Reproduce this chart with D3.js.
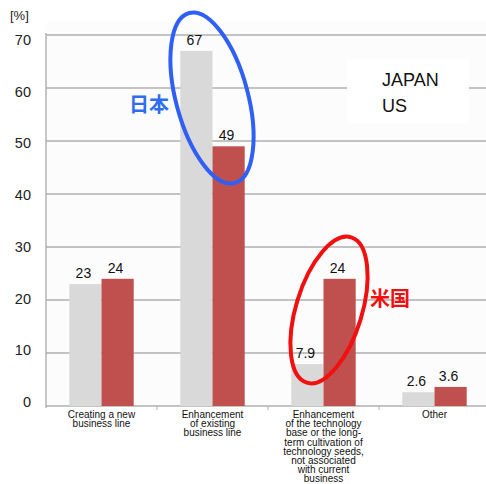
<!DOCTYPE html>
<html>
<head>
<meta charset="utf-8">
<script src="https://cdn.jsdelivr.net/npm/d3@7"></script>
<style>
  body { margin: 0; background: #fff; }
  text { font-family: "Liberation Sans", Arial, sans-serif; }
</style>
</head>
<body>
<svg width="486" height="484"></svg>
<script>
const categories = [
  ["Creating a new", "business line"],
  ["Enhancement", "of existing", "business line"],
  ["Enhancement", "of the technology", "base or the long-", "term cultivation of", "technology seeds,", "not associated", "with current", "business"],
  ["Other"]
];
const series = ["JAPAN", "US"];
const japan = [23, 67, 7.9, 2.6];
const us = [24, 49, 24, 3.6];
const yTicks = [0, 10, 20, 30, 40, 50, 60, 70];
const colors = { JAPAN: "#d9d9d9", US: "#c0504d" };

const svg = d3.select("svg");
const plotL = 46, plotR = 490, plotT = 35, plotB = 406;

const x = d3.scaleBand().domain(d3.range(categories.length)).range([plotL, plotR]).paddingInner(0.42).paddingOuter(0.21);
const x1 = d3.scaleBand().domain(series).range([0, x.bandwidth()]);
const y = d3.scaleLinear().domain([0, 70]).range([plotB, plotT]);
// tick labels in the original sit on a slightly tighter scale than the gridlines
const yLab = d3.scaleLinear().domain([0, 70]).range([402, 40]);

// plot background
svg.append("rect").attr("x", plotL).attr("y", 22).attr("width", 486 - plotL).attr("height", plotB - 22).attr("fill", "#fcfcfc");

// gridlines
svg.append("g").selectAll("line").data(yTicks).enter().append("line")
  .attr("x1", plotL).attr("x2", 486)
  .attr("y1", d => y(d)).attr("y2", d => y(d))
  .attr("stroke", "#b0b0b0").attr("stroke-width", 1.3);

svg.append("line").attr("x1", plotL).attr("x2", plotL).attr("y1", plotT - 2).attr("y2", plotB + 2)
  .attr("stroke", "#a8a8a8").attr("stroke-width", 1.3);

// y labels
svg.append("g").selectAll("text").data(yTicks).enter().append("text")
  .attr("x", 31).attr("y", d => yLab(d) + 5)
  .attr("text-anchor", "end").attr("font-size", 14.5).attr("fill", "#222")
  .text(d => d);
svg.append("text").attr("x", 10).attr("y", 20).attr("font-size", 13).attr("fill", "#222").text("[%]");

// small ticks between categories
svg.append("g").selectAll("line").data(d3.range(1, categories.length)).enter().append("line")
  .attr("x1", d => x(d) - x.step() * x.paddingInner() / 2).attr("x2", d => x(d) - x.step() * x.paddingInner() / 2)
  .attr("y1", plotB).attr("y2", plotB + 4)
  .attr("stroke", "#b0b0b0");

// bars
const rows = categories.map((c, i) => ({ i, vals: [ { s: "JAPAN", v: japan[i] }, { s: "US", v: us[i] } ] }));
const g = svg.append("g").selectAll("g").data(rows).enter().append("g")
  .attr("transform", d => `translate(${x(d.i)},0)`);
g.selectAll("rect").data(d => d.vals).enter().append("rect")
  .attr("x", d => x1(d.s)).attr("width", x1.bandwidth())
  .attr("y", d => y(d.v)).attr("height", d => plotB - y(d.v))
  .attr("fill", d => colors[d.s]);
g.selectAll("text").data(d => d.vals).enter().append("text")
  .attr("x", d => x1(d.s) + x1.bandwidth() / 2 - 2).attr("y", d => y(d.v) - 6)
  .attr("text-anchor", "middle").attr("font-size", 14).attr("fill", "#111")
  .text(d => d.v);

// category labels
const cl = svg.append("g").selectAll("text").data(categories).enter().append("text")
  .attr("x", (d, i) => x(i) + x.bandwidth() / 2).attr("y", 418)
  .attr("text-anchor", "middle").attr("font-size", 10).attr("fill", "#111");
cl.selectAll("tspan").data(d => d).enter().append("tspan")
  .attr("x", function () { return this.parentNode.getAttribute("x"); })
  .attr("dy", (d, i) => i ? 9.2 : 0)
  .text(d => d);

// legend
svg.append("rect").attr("x", 347).attr("y", 59).attr("width", 122).attr("height", 64).attr("fill", "#fff");
svg.append("g").selectAll("text").data(series).enter().append("text")
  .attr("x", 382).attr("y", (d, i) => 86 + i * 26)
  .attr("font-size", 18).attr("fill", "#111").text(d => d);

// annotations
svg.append("ellipse").attr("cx", 0).attr("cy", 0).attr("rx", 36).attr("ry", 88)
  .attr("transform", "translate(212,98) rotate(-15)")
  .attr("fill", "none").attr("stroke", "#2f5ff5").attr("stroke-width", 4);
svg.append("text").attr("x", 129).attr("y", 112).attr("font-size", 20).attr("font-weight", "bold")
  .attr("fill", "#2f6df0").style("font-family", "'Noto Sans CJK JP', sans-serif").text("日本");

svg.append("ellipse").attr("cx", 0).attr("cy", 0).attr("rx", 33).attr("ry", 76)
  .attr("transform", "translate(329,310) rotate(17)")
  .attr("fill", "none").attr("stroke", "#f01010").attr("stroke-width", 4);
svg.append("text").attr("x", 370).attr("y", 306).attr("font-size", 20).attr("font-weight", "bold")
  .attr("fill", "#f01010").style("font-family", "'Noto Sans CJK JP', sans-serif").text("米国");
</script>
</body>
</html>
